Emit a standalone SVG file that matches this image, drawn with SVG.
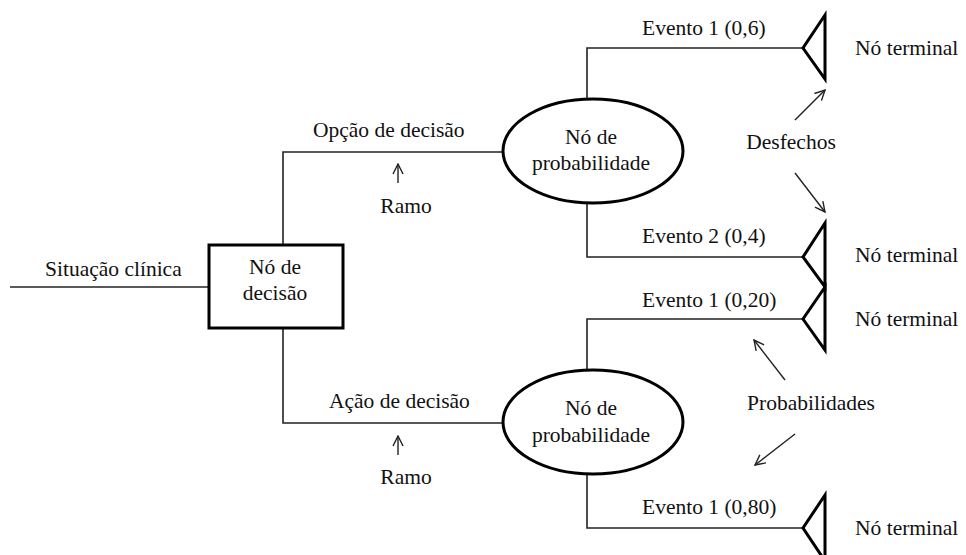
<svg xmlns="http://www.w3.org/2000/svg" width="966" height="555" viewBox="0 0 966 555">
<style>
text{font-family:"Liberation Serif","Times New Roman",serif;font-size:21.5px;fill:#111}
.c{text-anchor:middle}
.ln{fill:none;stroke:#222;stroke-width:1.6}
.thick{fill:#fff;stroke:#000;stroke-width:3}
.tri{fill:none;stroke:#000;stroke-width:3;stroke-linejoin:miter}
.ar{fill:none;stroke:#222;stroke-width:1.4;marker-end:url(#ah)}
</style>
<defs>
<marker id="ah" viewBox="0 0 12 12" refX="11" refY="6" markerWidth="12" markerHeight="12" markerUnits="userSpaceOnUse" orient="auto">
<path d="M1,1 L11,6 L1,11" fill="none" stroke="#222" stroke-width="1.4"/>
</marker>
</defs>
<rect width="966" height="555" fill="#fff"/>
<g id="connectors">
<path class="ln" d="M10,287 H209"/>
<path class="ln" d="M283,245 V152 H503"/>
<path class="ln" d="M283,328 V423 H503"/>
<path class="ln" d="M587,99 V48 H803"/>
<path class="ln" d="M587,203 V257 H803"/>
<path class="ln" d="M587,370 V319 H803"/>
<path class="ln" d="M587,474 V528 H803"/>
<path class="ar" d="M398,183 V164"/>
<path class="ar" d="M398,455 V436"/>
<path class="ar" d="M795,120 L825,90"/>
<path class="ar" d="M795,173 L825,212"/>
<path class="ar" d="M785,380 L754,340"/>
<path class="ar" d="M795,434 L755,465"/>
</g>
<g id="situacao"><text x="45" y="276">Situação clínica</text></g>
<g id="decisao">
<rect class="thick" x="209" y="245" width="134" height="83"/>
<text class="c" x="275" y="274">Nó de</text>
<text class="c" x="275" y="300">decisão</text>
</g>
<g id="prob1">
<ellipse class="thick" cx="593" cy="151" rx="90" ry="52"/>
<text class="c" x="591" y="144">Nó de</text>
<text class="c" x="591" y="170">probabilidade</text>
</g>
<g id="prob2">
<ellipse class="thick" cx="593" cy="422" rx="90" ry="52"/>
<text class="c" x="591" y="415">Nó de</text>
<text class="c" x="591" y="442">probabilidade</text>
</g>
<g id="term1"><path class="tri" d="M825,15 L803,48 L825,79 Z"/><text x="855" y="55">Nó terminal</text></g>
<g id="term2"><path class="tri" d="M825,223 L803,257 L825,287 Z"/><text x="855" y="262">Nó terminal</text></g>
<g id="term3"><path class="tri" d="M825,287 L803,319 L825,350 Z"/><text x="855" y="326">Nó terminal</text></g>
<g id="term4"><path class="tri" d="M825,495 L803,528 L825,561 Z"/><text x="855" y="535">Nó terminal</text></g>
<g id="labels">
<text x="313" y="137">Opção de decisão</text>
<text class="c" x="406" y="213">Ramo</text>
<text x="329" y="408">Ação de decisão</text>
<text class="c" x="406" y="484">Ramo</text>
<text x="642" y="35">Evento 1 (0,6)</text>
<text x="642" y="243">Evento 2 (0,4)</text>
<text x="642" y="307">Evento 1 (0,20)</text>
<text x="642" y="514">Evento 1 (0,80)</text>
<text class="c" x="791" y="149">Desfechos</text>
<text class="c" x="811" y="410">Probabilidades</text>
</g>
</svg>
